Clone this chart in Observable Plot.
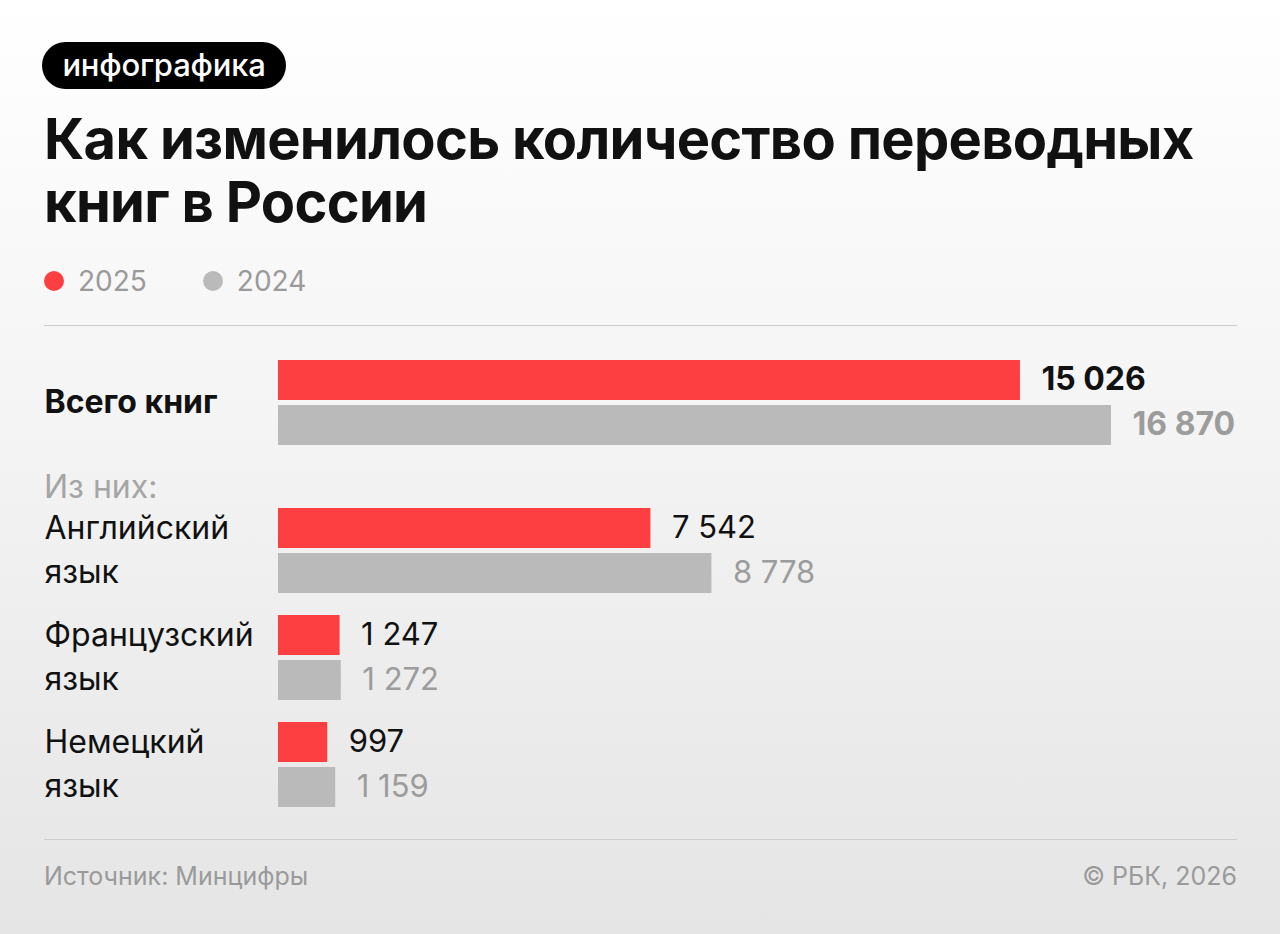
<!DOCTYPE html>
<html lang="ru">
<head>
<meta charset="utf-8">
<script src="https://cdn.jsdelivr.net/npm/d3@7"></script>
<script src="https://cdn.jsdelivr.net/npm/@observablehq/plot@0.6"></script>
<style>
  html, body { margin: 0; padding: 0; }
  body { width: 1280px; height: 934px; overflow: hidden; font-family: Inter, "Noto Sans", sans-serif; }
  #card {
    position: relative; width: 1280px; height: 934px;
    background: linear-gradient(180deg, #ffffff 0%, #f4f4f4 45%, #e5e5e5 100%);
  }
  .pill {
    position: absolute; left: 42px; top: 42px; height: 47px; width: 244px;
    box-sizing: border-box; border-radius: 24px; background: #000; color: #fff;
    font-size: 31px; font-weight: 500; line-height: 46px; text-align: center; letter-spacing: -0.2px;
  }
  h1 {
    position: absolute; left: 44px; top: 108px; margin: 0; width: 1220px;
    font-size: 56px; line-height: 63px; font-weight: 700; letter-spacing: -0.7px; color: #111;
  }
  .legend { position: absolute; top: 262px; left: 44px; font-size: 28px; color: #9a9a9a; display: flex; gap: 0; }
  .legend span { display: inline-flex; align-items: center; height: 38px; }
  .legend i { display: inline-block; width: 20px; height: 20px; border-radius: 50%; margin-right: 14px; }
  .rule { position: absolute; left: 44px; width: 1193px; height: 0; border-top: 1.5px solid #cdcdcd; }
  .sub { position: absolute; left: 44px; top: 467px; font-size: 32px; color: #a5a5a5; }
  .chart { position: absolute; left: 44px; }
  .foot { position: absolute; top: 861px; font-size: 25px; color: #9a9a9a; }
</style>
</head>
<body>
<div id="card">
  <div class="pill">инфографика</div>
  <h1>Как изменилось количество переводных<br>книг в России</h1>
  <div class="legend" id="legend"></div>
  <div class="rule" style="top:325px"></div>
  <div class="chart" id="total" style="top:350px"></div>
  <div class="sub">Из них:</div>
  <div class="chart" id="langs" style="top:498px"></div>
  <div class="rule" style="top:839px"></div>
  <div class="foot" style="left:44px">Источник: Минцифры</div>
  <div class="foot" style="right:43px">© РБК, 2026</div>
</div>
<script>
// Translated books published in Russia, by source language
const years = ["2025", "2024"];
const colors = ["#fe3f42", "#bababa"];
const totalLabel = ["Всего книг"];
const totalValues = { "2025": [15026], "2024": [16870] };
const languages = ["Английский\nязык", "Французский\nязык", "Немецкий\nязык"];
const langValues = { "2025": [7542, 1247, 997], "2024": [8778, 1272, 1159] };

// thousands separated by a space: 15 026
const fmtNum = (v) => {
  const s = String(v);
  return s.length > 3 ? s.slice(0, -3) + " " + s.slice(-3) : s;
};

function rows(cats, vals) {
  const out = [];
  cats.forEach((c, i) => years.forEach((y) => out.push({ cat: c, year: y, value: vals[y][i] })));
  return out;
}

// one shared x scale for both panels
const xMax = d3.max([...totalValues["2024"], ...totalValues["2025"], ...langValues["2024"], ...langValues["2025"]]);

// legend
const legend = document.getElementById("legend");
years.forEach((y, i) => {
  const s = document.createElement("span");
  s.style.marginRight = i === 0 ? "56px" : "0";
  s.innerHTML = `<i style="background:${colors[i]}"></i>${y}`;
  legend.appendChild(s);
});

function barChart({ cats, vals, height, marginTop, paddingInner, bold }) {
  const data = rows(cats, vals);
  const pick = (y) => data.filter((d) => d.year === y);
  const numSize = bold ? 32 : 31;
  return Plot.plot({
    width: 1193,
    height,
    marginLeft: 234,
    marginRight: 126,
    marginTop,
    marginBottom: 0,
    style: { background: "transparent", fontFamily: "Inter, 'Noto Sans', sans-serif", overflow: "visible" },
    x: { domain: [0, xMax], axis: null },
    y: { domain: cats, axis: null, paddingInner, paddingOuter: 0, round: false },
    marks: [
      Plot.barX(pick("2025"), { x: "value", y: "cat", fill: colors[0], insetBottom: 45 }),
      Plot.barX(pick("2024"), { x: "value", y: "cat", fill: colors[1], insetTop: 45 }),
      Plot.text(pick("2025"), {
        x: "value", y: "cat", text: (d) => fmtNum(d.value), dx: 21, dy: -23,
        textAnchor: "start", fontSize: numSize, fill: "#111", fontWeight: bold ? 700 : 400
      }),
      Plot.text(pick("2024"), {
        x: "value", y: "cat", text: (d) => fmtNum(d.value), dx: 21, dy: 22,
        textAnchor: "start", fontSize: numSize, fill: "#9c9c9c", fontWeight: bold ? 700 : 400
      }),
      Plot.text(cats, {
        y: (d) => d, text: (d) => d, frameAnchor: "left", dx: -234, dy: -4,
        textAnchor: "start", lineAnchor: "middle", lineHeight: 1.375,
        fontSize: 32, fill: "#111", fontWeight: bold ? 650 : 400
      })
    ]
  });
}

document.getElementById("total").appendChild(
  barChart({ cats: totalLabel, vals: totalValues, height: 95, marginTop: 10, paddingInner: 0, bold: true })
);
document.getElementById("langs").appendChild(
  barChart({ cats: languages, vals: langValues, height: 309, marginTop: 10, paddingInner: 22 / 107, bold: false })
);
</script>
</body>
</html>
